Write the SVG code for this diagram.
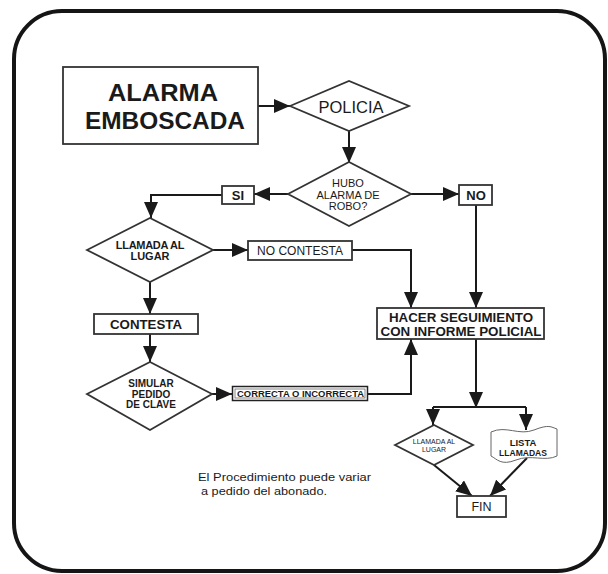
<svg xmlns="http://www.w3.org/2000/svg" width="608" height="574" viewBox="0 0 608 574">
<defs>
<marker id="ah" viewBox="0 0 16 14" refX="16" refY="7" markerWidth="16" markerHeight="14" markerUnits="userSpaceOnUse" orient="auto">
<path d="M0,0 L16,7 L0,14 z" fill="#1a1a1a"/>
</marker>
<style>
.box{fill:#fff;stroke:#333;stroke-width:1.8}
.t{font-family:"Liberation Sans",Arial,sans-serif;fill:#1a1a1a;text-anchor:middle}
.b{font-weight:bold}
.c{fill:none;stroke:#1a1a1a;stroke-width:2;marker-end:url(#ah)}
.l{fill:none;stroke:#1a1a1a;stroke-width:2}
.n{font-family:"Liberation Sans",Arial,sans-serif;fill:#1a1a1a;font-size:11.5px}
</style>
</defs>
<rect width="608" height="574" fill="#fff"/>
<rect x="14" y="11" width="591" height="560" rx="48" ry="48" fill="none" stroke="#151515" stroke-width="4"/>

<g id="connectors">
<path class="c" d="M258,106 H290"/>
<path class="c" d="M349,131 V163"/>
<path class="c" d="M288,194 H254"/>
<path class="c" d="M222,195 H151 V218"/>
<path class="c" d="M411,194 H459"/>
<path class="c" d="M476,205 V308"/>
<path class="c" d="M213,250 H248"/>
<path class="c" d="M352,250 H411 V308"/>
<path class="c" d="M150,282 V314"/>
<path class="c" d="M150,334 V362"/>
<path class="c" d="M212,394 H232"/>
<path class="c" d="M368,394 H411 V339"/>
<path class="c" d="M476,339 V408"/>
<path class="l" d="M433,407 H526"/>
<path class="c" d="M433,407 V425"/>
<path class="c" d="M526,407 V430"/>
<path class="c" d="M434,465 L472,496"/>
<path class="c" d="M527,458 L490,496"/>
</g>

<g id="alarma">
<rect class="box" x="63" y="67" width="195" height="77"/>
<text class="t b" x="163" y="100.5" font-size="24" textLength="110" lengthAdjust="spacingAndGlyphs">ALARMA</text>
<text class="t b" x="165" y="128.5" font-size="24" textLength="160" lengthAdjust="spacingAndGlyphs">EMBOSCADA</text>
</g>

<g id="policia">
<polygon class="box" points="290,106 349,81 409,106 349,131"/>
<text class="t" x="351" y="113" font-size="16.5">POLICIA</text>
</g>

<g id="hubo">
<polygon class="box" points="288,194 349,162 411,194 349,226"/>
<text class="t" x="348" y="187" font-size="11">HUBO</text>
<text class="t" x="348" y="198.5" font-size="11">ALARMA DE</text>
<text class="t" x="348" y="210" font-size="11">ROBO?</text>
</g>

<g id="si">
<rect class="box" x="222" y="186" width="32" height="18"/>
<text class="t b" x="238" y="199.5" font-size="13">SI</text>
</g>

<g id="no">
<rect class="box" x="459" y="185" width="33" height="20"/>
<text class="t b" x="476" y="199.5" font-size="13">NO</text>
</g>

<g id="llamada">
<polygon class="box" points="87,250 150,218 213,250 150,282"/>
<text class="t b" x="150" y="249" font-size="11" letter-spacing="-0.3">LLAMADA AL</text>
<text class="t b" x="150" y="260" font-size="11">LUGAR</text>
</g>

<g id="nocontesta">
<rect class="box" x="248" y="241" width="104" height="19"/>
<text class="t" x="300" y="255" font-size="12">NO CONTESTA</text>
</g>

<g id="contesta">
<rect class="box" x="94" y="314" width="104" height="20"/>
<text class="t b" x="146" y="329" font-size="13.5" textLength="72" lengthAdjust="spacingAndGlyphs">CONTESTA</text>
</g>

<g id="simular">
<polygon class="box" points="87,394 150,362 212,394 150,430"/>
<text class="t b" x="151" y="387" font-size="10">SIMULAR</text>
<text class="t b" x="151" y="397.5" font-size="10">PEDIDO</text>
<text class="t b" x="151" y="408" font-size="10">DE CLAVE</text>
</g>

<g id="correcta">
<rect x="232.5" y="386.5" width="135" height="14" fill="#fff" stroke="#222" stroke-width="1.5"/>
<rect x="235" y="389" width="130" height="9" fill="none" stroke="#555" stroke-width="0.7"/>
<text class="t b" x="300.5" y="397.3" font-size="9.5" textLength="127" lengthAdjust="spacingAndGlyphs">CORRECTA O INCORRECTA</text>
</g>

<g id="hacer">
<rect class="box" x="377" y="308" width="167" height="31"/>
<text class="t b" x="461" y="322" font-size="13.5" textLength="144" lengthAdjust="spacingAndGlyphs">HACER SEGUIMIENTO</text>
<text class="t b" x="461" y="336" font-size="13.5" textLength="161" lengthAdjust="spacingAndGlyphs">CON INFORME POLICIAL</text>
</g>

<g id="llamada2">
<polygon class="box" points="395,445 434,425 473,445 434,465" stroke-width="1.4"/>
<text class="t" x="434" y="443.5" font-size="7">LLAMADA AL</text>
<text class="t" x="434" y="451.5" font-size="7">LUGAR</text>
</g>

<g id="lista">
<path d="M491,432 C506,425 519,436 534,430 S551,427 557,429 V456 C545,462 531,454 516,460 S497,459 491,456 Z" fill="#fff" stroke="#666" stroke-width="1"/>
<text class="t b" x="523" y="446" font-size="9.5">LISTA</text>
<text class="t b" x="523" y="455.5" font-size="9.5" textLength="48" lengthAdjust="spacingAndGlyphs">LLAMADAS</text>
</g>

<g id="fin">
<rect class="box" x="457" y="496" width="49" height="21"/>
<text class="t" x="481.5" y="511" font-size="12.5">FIN</text>
</g>

<g id="nota">
<text class="n" x="198" y="481" textLength="173" lengthAdjust="spacingAndGlyphs">El Procedimiento puede variar</text>
<text class="n" x="201" y="494.5" textLength="126" lengthAdjust="spacingAndGlyphs">a pedido del abonado.</text>
</g>
</svg>
